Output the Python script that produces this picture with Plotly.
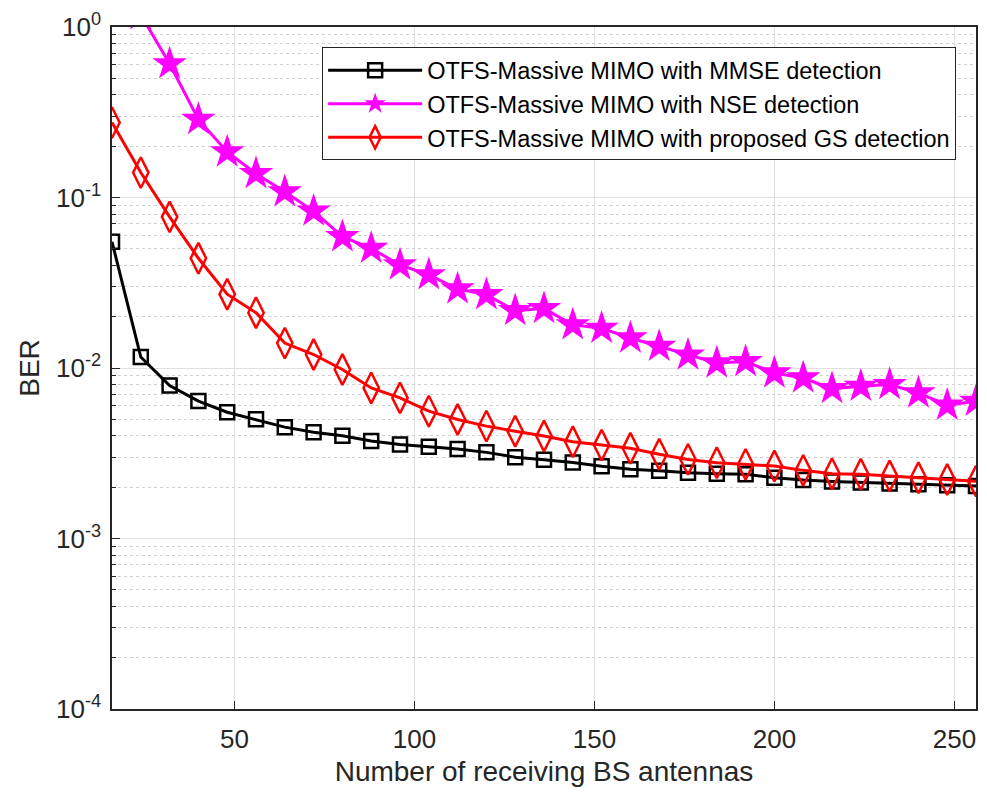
import plotly.graph_objects as go

antennas = list(range(16, 257, 8))

ber_mmse = [0.055, 0.0116, 0.0079, 0.0064, 0.0055, 0.0050, 0.0045, 0.0042,
            0.0040, 0.00373, 0.00356, 0.00345, 0.00335, 0.0032, 0.0030, 0.0029,
            0.00279, 0.00265, 0.00255, 0.00250, 0.00243, 0.00240, 0.00238, 0.00227,
            0.00220, 0.00216, 0.00213, 0.00210, 0.00208, 0.00205, 0.00203]

ber_nse = [2.5, 1.18, 0.608, 0.287, 0.185, 0.138, 0.108, 0.0832,
           0.0589, 0.0503, 0.0402, 0.0352, 0.0291, 0.0269, 0.0217, 0.0223,
           0.0179, 0.0171, 0.0150, 0.0134, 0.0119, 0.0107, 0.0109, 0.00935,
           0.00874, 0.00757, 0.00781, 0.00800, 0.00714, 0.00605, 0.00638]

ber_gs = [0.275, 0.140, 0.077, 0.044, 0.0271, 0.0211, 0.0140, 0.0120,
          0.0098, 0.00764, 0.00668, 0.00558, 0.00499, 0.00456, 0.00426, 0.00399,
          0.00369, 0.00353, 0.00338, 0.00312, 0.00291, 0.00278, 0.00272, 0.00266,
          0.00251, 0.00240, 0.00238, 0.00233, 0.00227, 0.00222, 0.00217]

names = ["OTFS-Massive MIMO with MMSE detection",
         "OTFS-Massive MIMO with NSE detection",
         "OTFS-Massive MIMO with proposed GS detection"]

y_tickvals = [1e-4, 1e-3, 1e-2, 1e-1, 1]
y_ticktext = ["10<sup>-4</sup>", "10<sup>-3</sup>", "10<sup>-2</sup>", "10<sup>-1</sup>", "10<sup>0</sup>"]
y_minor_vals = [m * d for d in [1e-4, 1e-3, 1e-2, 1e-1] for m in range(2, 10)]
x_tickvals = [50, 100, 150, 200, 250]

FONT = "Liberation Sans, Arial, sans-serif"
AX = "#262626"
TXT = "#262626"

fig = go.Figure()
fig.add_trace(go.Scatter(
    x=antennas, y=ber_mmse, name=names[0], mode="lines+markers",
    line=dict(color="black", width=3),
    marker=dict(symbol="square-open", size=14, color="black", line=dict(width=2.5, color="black")),
))
fig.add_trace(go.Scatter(
    x=antennas, y=ber_nse, name=names[1], mode="lines+markers",
    line=dict(color="#ff00ff", width=3),
    marker=dict(symbol="star", size=26, color="#ff00ff", line=dict(width=0)),
))
fig.add_trace(go.Scatter(
    x=antennas, y=ber_gs, name=names[2], mode="lines+markers",
    line=dict(color="red", width=3),
    marker=dict(symbol="diamond-tall-open", size=22, color="red", line=dict(width=2.5, color="red")),
))

fig.update_layout(
    width=987, height=793,
    margin=dict(l=112, r=9, t=25, b=84),
    paper_bgcolor="white", plot_bgcolor="white",
    font=dict(family=FONT, color=TXT, size=26),
    showlegend=True,
    legend=dict(
        x=0.977, y=0.970, xanchor="right", yanchor="top",
        bgcolor="white", bordercolor=AX, borderwidth=1,
        font=dict(family=FONT, size=23.5, color="black"),
        itemwidth=94, tracegroupgap=0,
    ),
)
fig.update_xaxes(
    range=[16, 256], tickvals=x_tickvals,
    showline=True, linecolor=AX, linewidth=1.5, mirror=True,
    ticks="inside", ticklen=8, tickcolor=AX,
    showgrid=True, gridcolor="#e0e0e0", gridwidth=1,
    zeroline=False, ticklabelstandoff=6,
    tickfont=dict(family=FONT, size=26, color=TXT),
    title=dict(text="Number of receiving BS antennas", font=dict(family=FONT, size=28, color=TXT), standoff=8),
)
fig.update_yaxes(
    type="log", range=[-4, 0], tickmode="array", tickvals=y_tickvals, ticktext=y_ticktext,
    showline=True, linecolor=AX, linewidth=1.5, mirror=True,
    ticks="inside", ticklen=8, tickcolor=AX,
    showgrid=True, gridcolor="#e0e0e0", gridwidth=1,
    minor=dict(tickmode="array", tickvals=y_minor_vals, ticks="inside", ticklen=4,
               tickcolor=AX, showgrid=True, gridcolor="#d0d0d0", griddash="dot", gridwidth=1),
    zeroline=False, ticklabelstandoff=4,
    tickfont=dict(family=FONT, size=26, color=TXT),
    title=dict(text="BER", font=dict(family=FONT, size=28, color=TXT), standoff=8),
)

fig.write_html("out.html")
